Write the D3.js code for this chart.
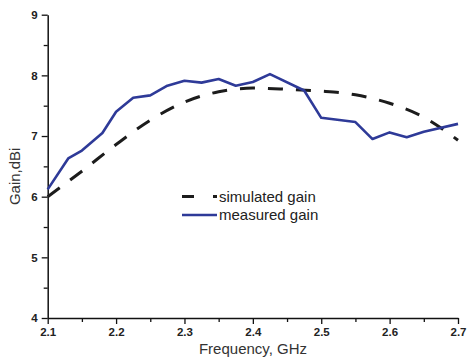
<!DOCTYPE html>
<html>
<head>
<meta charset="utf-8">
<script src="https://cdn.jsdelivr.net/npm/d3@7"></script>
<style>
  html, body { margin: 0; padding: 0; background: #fff; }
  svg { display: block; }
  .tick text { font-family: "Liberation Sans", Arial, sans-serif; font-weight: bold; font-size: 11.5px; fill: #222; }
  .title { font-family: "Liberation Sans", Arial, sans-serif; font-size: 15px; fill: #333; }
  .legend text { font-family: "Liberation Sans", Arial, sans-serif; font-size: 15px; fill: #222; }
</style>
</head>
<body>
<svg id="chart" width="467" height="361"></svg>
<script>
// Simulated gain (dBi) vs frequency (GHz)
const simFreq = [2.10, 2.15, 2.20, 2.25, 2.30, 2.35, 2.40, 2.45, 2.50, 2.55, 2.60, 2.65, 2.70];
const simGain = [6.00, 6.42, 6.86, 7.26, 7.56, 7.73, 7.79, 7.77, 7.74, 7.68, 7.54, 7.31, 6.93];

// Measured gain (dBi) vs frequency (GHz)
const measFreq = [2.100, 2.130, 2.150, 2.180, 2.200, 2.225, 2.250, 2.275, 2.300, 2.325, 2.350,
                  2.375, 2.400, 2.425, 2.475, 2.500, 2.550, 2.575, 2.600, 2.625, 2.650, 2.700];
const measGain = [6.12, 6.63, 6.76, 7.05, 7.40, 7.63, 7.67, 7.83, 7.91, 7.88, 7.94,
                  7.83, 7.89, 8.02, 7.75, 7.30, 7.23, 6.95, 7.06, 6.98, 7.07, 7.20];

const xTicks = [2.1, 2.2, 2.3, 2.4, 2.5, 2.6, 2.7];
const xMinor = [2.15, 2.25, 2.35, 2.45, 2.55, 2.65];
const yTicks = [4, 5, 6, 7, 8, 9];
const yMinor = [4.5, 5.5, 6.5, 7.5, 8.5];

const seriesNames = ["simulated gain", "measured gain"];
const xTitle = "Frequency, GHz";
const yTitle = "Gain,dBi";

const svg = d3.select("#chart");
const plot = { left: 47.7, right: 458, top: 14.7, bottom: 318 };

const x = d3.scaleLinear().domain([2.1, 2.7]).range([plot.left, plot.right]);
const y = d3.scaleLinear().domain([4, 9]).range([plot.bottom, plot.top]);

const axisColor = "#111";

// minor ticks
svg.append("g").attr("transform", `translate(0,${plot.bottom})`)
  .call(d3.axisBottom(x).tickValues(xMinor).tickSize(4).tickFormat(""))
  .call(g => g.select(".domain").remove())
  .call(g => g.selectAll("line").attr("stroke", axisColor).attr("stroke-width", 1.3));
svg.append("g").attr("transform", `translate(${plot.left},0)`)
  .call(d3.axisLeft(y).tickValues(yMinor).tickSize(4).tickFormat(""))
  .call(g => g.select(".domain").remove())
  .call(g => g.selectAll("line").attr("stroke", axisColor).attr("stroke-width", 1.3));

// major axes
svg.append("g").attr("transform", `translate(0,${plot.bottom})`)
  .call(d3.axisBottom(x).tickValues(xTicks).tickSize(6).tickSizeOuter(0).tickPadding(4).tickFormat(d3.format(".1f")))
  .call(g => g.select(".domain").attr("stroke", axisColor).attr("stroke-width", 1.5))
  .call(g => g.selectAll(".tick line").attr("stroke", axisColor).attr("stroke-width", 1.3));
svg.append("g").attr("transform", `translate(${plot.left},0)`)
  .call(d3.axisLeft(y).tickValues(yTicks).tickSize(6).tickSizeOuter(0).tickPadding(4).tickFormat(d3.format("d")))
  .call(g => g.select(".domain").attr("stroke", axisColor).attr("stroke-width", 1.5))
  .call(g => g.selectAll(".tick line").attr("stroke", axisColor).attr("stroke-width", 1.3));

// axis titles
svg.append("text").attr("class", "title")
  .attr("x", 253).attr("y", 354)
  .attr("text-anchor", "middle").text(xTitle);
svg.append("text").attr("class", "title")
  .attr("transform", `translate(20,${(plot.top + plot.bottom) / 2 + 10}) rotate(-90)`)
  .attr("text-anchor", "middle").text(yTitle);

// series
const simData = simFreq.map((f, i) => [f, simGain[i]]);
const measData = measFreq.map((f, i) => [f, measGain[i]]);

svg.append("path")
  .datum(simData)
  .attr("fill", "none")
  .attr("stroke", "#1c1c1c")
  .attr("stroke-width", 3)
  .attr("stroke-dasharray", "15,13")
  .attr("d", d3.line().x(d => x(d[0])).y(d => y(d[1])).curve(d3.curveMonotoneX));

svg.append("path")
  .datum(measData)
  .attr("fill", "none")
  .attr("stroke", "#2e3a98")
  .attr("stroke-width", 2.6)
  .attr("stroke-linejoin", "round")
  .attr("d", d3.line().x(d => x(d[0])).y(d => y(d[1])));

// legend
const legend = svg.append("g").attr("class", "legend");
const legendRows = [
  { name: seriesNames[0], color: "#1c1c1c", width: 3, dash: "12,19" },
  { name: seriesNames[1], color: "#2e3a98", width: 2.6, dash: null }
];
legendRows.forEach((r, i) => {
  const ly = 196.5 + i * 18.5;
  legend.append("line")
    .attr("x1", 182).attr("x2", 217).attr("y1", ly).attr("y2", ly)
    .attr("stroke", r.color).attr("stroke-width", r.width)
    .attr("stroke-dasharray", r.dash);
  legend.append("text")
    .attr("x", 219).attr("y", ly).attr("dy", "0.35em")
    .text(r.name);
});
</script>
</body>
</html>
